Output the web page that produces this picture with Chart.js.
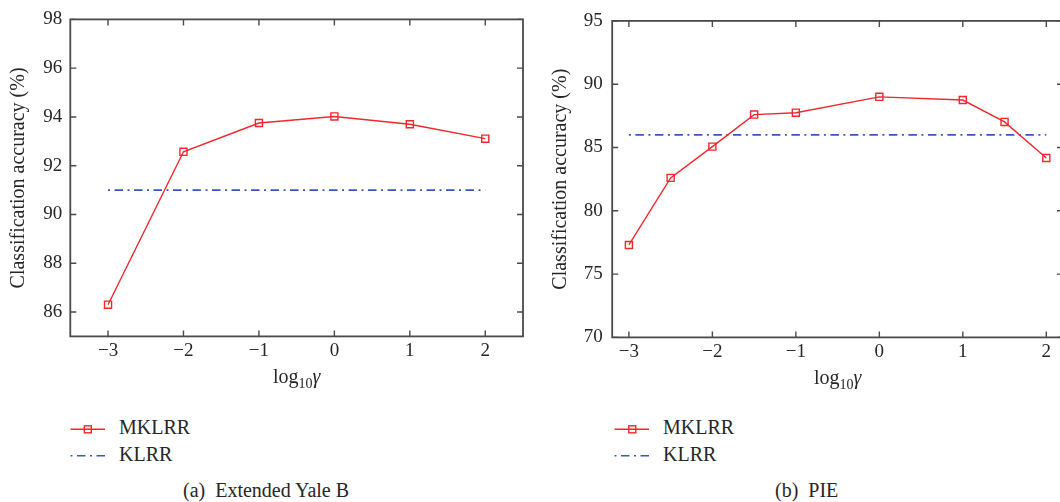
<!DOCTYPE html>
<html>
<head>
<meta charset="utf-8">
<script src="https://cdn.jsdelivr.net/npm/chart.js@4.4.0/dist/chart.umd.min.js"></script>
<style>
  body { margin:0; width:1060px; height:502px; overflow:hidden; position:relative; background:#fff;
         font-family:"Liberation Serif", "DejaVu Serif", serif; color:#262626; }
  .box { position:absolute; top:0; height:400px; }
  #boxA { left:0; width:530px; }
  #boxB { left:530px; width:560px; }
  .txt { position:absolute; font-size:20px; line-height:20px; white-space:pre; }
  .sample { position:absolute; }
</style>
</head>
<body>
<div class="box" id="boxA"><canvas id="chartA"></canvas></div>
<div class="box" id="boxB"><canvas id="chartB"></canvas></div>

<svg class="sample" style="left:70px;top:421px" width="36" height="16">
  <line x1="0.5" y1="8.3" x2="35" y2="8.3" stroke="#f0282d" stroke-width="1.4"/>
  <rect x="14.3" y="4.8" width="7" height="7" fill="none" stroke="#f0282d" stroke-width="1.4"/>
</svg>
<div class="txt" style="left:119px;top:417px">MKLRR</div>
<svg class="sample" style="left:70px;top:448px" width="36" height="16">
  <line x1="0.5" y1="7.7" x2="35" y2="7.7" stroke="#3a55c0" stroke-width="1.6" stroke-dasharray="2 4.5 8.5 4.5"/>
</svg>
<div class="txt" style="left:119px;top:444px">KLRR</div>
<div class="txt" style="left:183px;top:480px">(a)  Extended Yale B</div>

<svg class="sample" style="left:614px;top:421px" width="36" height="16">
  <line x1="0.5" y1="8.3" x2="35" y2="8.3" stroke="#f0282d" stroke-width="1.4"/>
  <rect x="14.8" y="4.8" width="7" height="7" fill="none" stroke="#f0282d" stroke-width="1.4"/>
</svg>
<div class="txt" style="left:663px;top:417px">MKLRR</div>
<svg class="sample" style="left:614px;top:448px" width="36" height="16">
  <line x1="0.5" y1="7.7" x2="35" y2="7.7" stroke="#3a55c0" stroke-width="1.6" stroke-dasharray="2 4.5 8.5 4.5"/>
</svg>
<div class="txt" style="left:663px;top:444px">KLRR</div>
<div class="txt" style="left:775px;top:480px">(b)  PIE</div>

<script>
// (a) Extended Yale B
const gammaA = [-3, -2, -1, 0, 1, 2];
const mklrrA = [86.3, 92.57, 93.75, 94.02, 93.7, 93.11];
const klrrA = 91.0;
const xTicksA = [-3, -2, -1, 0, 1, 2];
const yTicksA = [86, 88, 90, 92, 94, 96, 98];

// (b) PIE
const gammaB = [-3, -2.5, -2, -1.5, -1, 0, 1, 1.5, 2];
const mklrrB = [77.3, 82.6, 85.07, 87.6, 87.75, 89.0, 88.75, 87.02, 84.17];
const klrrB = 86.0;
const xTicksB = [-3, -2, -1, 0, 1, 2];
const yTicksB = [70, 75, 80, 85, 90, 95];

const RED = '#f0282d', BLUE = '#3a55c0', AXIS = '#4a4a4a', TEXT = '#262626';
const FONT = '"Liberation Serif", "DejaVu Serif", serif';

// box round the plot, inward ticks on all four sides, and the log10(gamma) title
const framePlugin = {
  id: 'frame',
  beforeDatasetsDraw(chart) {
    const {ctx, chartArea: a, scales: {x, y}} = chart;
    ctx.save();
    ctx.strokeStyle = AXIS;
    ctx.lineWidth = 1.8;
    ctx.strokeRect(a.left, a.top, a.right - a.left, a.bottom - a.top);
    ctx.lineWidth = 1.4;
    ctx.beginPath();
    x.ticks.forEach(t => {
      const px = x.getPixelForValue(t.value);
      ctx.moveTo(px, a.bottom); ctx.lineTo(px, a.bottom - 6);
      ctx.moveTo(px, a.top); ctx.lineTo(px, a.top + 6);
    });
    y.ticks.forEach(t => {
      const py = y.getPixelForValue(t.value);
      ctx.moveTo(a.left, py); ctx.lineTo(a.left + 6, py);
      ctx.moveTo(a.right, py); ctx.lineTo(a.right - 6, py);
    });
    ctx.stroke();

    // x title with subscript
    ctx.fillStyle = TEXT;
    ctx.textBaseline = 'alphabetic';
    const parts = [
      {t: 'log', f: '20px ' + FONT, dy: 0},
      {t: '10', f: '14px ' + FONT, dy: 5},
      {t: 'γ', f: 'italic 20px ' + FONT, dy: 0}
    ];
    let w = 0;
    parts.forEach(p => { ctx.font = p.f; p.w = ctx.measureText(p.t).width; w += p.w; });
    let cx = (a.left + a.right) / 2 - w / 2;
    const by = a.bottom + 47;
    parts.forEach(p => { ctx.font = p.f; ctx.fillText(p.t, cx, by + p.dy); cx += p.w; });
    ctx.restore();
  }
};

const minus = v => String(v).replace('-', '\u2212');

function makeChart(id, o) {
  return new Chart(document.getElementById(id), {
    type: 'line',
    data: {
      datasets: [{
        label: 'MKLRR',
        data: o.gamma.map((g, i) => ({x: g, y: o.mklrr[i]})),
        borderColor: RED,
        borderWidth: 1.4,
        pointStyle: 'rect',
        pointRadius: 5,
        pointBorderWidth: 1.4,
        pointBorderColor: RED,
        pointBackgroundColor: 'rgba(255,255,255,0)',
        tension: 0
      }, {
        label: 'KLRR',
        data: o.gamma.map(g => ({x: g, y: o.klrr})),
        borderColor: BLUE,
        borderWidth: 1.6,
        borderDash: [2, 4.5, 8.5, 4.5],
        pointRadius: 0
      }]
    },
    options: {
      responsive: false,
      animation: false,
      layout: { padding: o.padding },
      plugins: { legend: { display: false }, tooltip: { enabled: false } },
      scales: {
        x: {
          type: 'linear',
          min: o.xMin, max: o.xMax,
          afterBuildTicks: s => { s.ticks = o.xTicks.map(v => ({value: v})); },
          afterFit: s => { s.height = o.xHeight; },
          grid: { display: false, drawTicks: false, tickLength: 0 },
          border: { display: false },
          ticks: { color: TEXT, font: { family: FONT, size: 19 }, padding: 3, maxRotation: 0,
                   callback: v => minus(v) }
        },
        y: {
          min: o.yMin, max: o.yMax,
          afterBuildTicks: s => { s.ticks = o.yTicks.map(v => ({value: v})); },
          afterFit: s => { s.width = o.yWidth; },
          grid: { display: false, drawTicks: false, tickLength: 0 },
          border: { display: false },
          ticks: { color: TEXT, font: { family: FONT, size: 19 }, padding: o.yPad,
                   callback: v => minus(v) },
          title: { display: true, text: 'Classification accuracy (%)', color: TEXT,
                   font: { family: FONT, size: 20 }, padding: { top: 4, bottom: 4 } }
        }
      }
    },
    plugins: [framePlugin]
  });
}

function sizeCanvas(id, w, h) {
  const c = document.getElementById(id);
  c.width = w; c.height = h;
  c.style.width = w + 'px'; c.style.height = h + 'px';
}
sizeCanvas('chartA', 530, 400);
sizeCanvas('chartB', 560, 400);

makeChart('chartA', {
  gamma: gammaA, mklrr: mklrrA, klrr: klrrA, xTicks: xTicksA, yTicks: yTicksA,
  xMin: -3.5, xMax: 2.5, yMin: 85, yMax: 98,
  padding: { left: 3, top: 12, right: 7, bottom: 0 },
  yWidth: 67.3, xHeight: 63.6, yPad: 8
});
makeChart('chartB', {
  gamma: gammaB, mklrr: mklrrB, klrr: klrrB, xTicks: xTicksB, yTicks: yTicksB,
  xMin: -3.2, xMax: 2.2, yMin: 70, yMax: 95,
  padding: { left: 14.4, top: 14, right: 27, bottom: 0 },
  yWidth: 67.8, xHeight: 62.6, yPad: 9.5
});
</script>
</body>
</html>
